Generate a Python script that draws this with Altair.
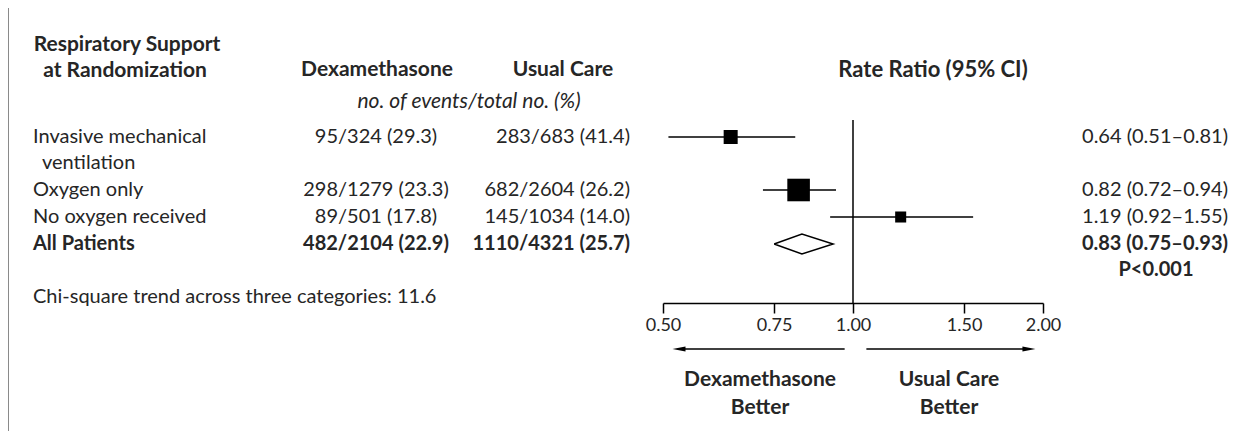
import altair as alt
import pandas as pd

# ---------------- data ----------------
row_labels = ["Invasive mechanical", "Oxygen only", "No oxygen received", "All Patients"]
row_label_cont = ["ventilation", "", "", ""]
dex_text = ["95/324 (29.3)", "298/1279 (23.3)", "89/501 (17.8)", "482/2104 (22.9)"]
usual_text = ["283/683 (41.4)", "682/2604 (26.2)", "145/1034 (14.0)", "1110/4321 (25.7)"]
dex_events = [95, 298, 89, 482]
usual_events = [283, 682, 145, 1110]
rate_ratio = [0.64, 0.82, 1.19, 0.83]
ci_low = [0.51, 0.72, 0.92, 0.75]
ci_high = [0.81, 0.94, 1.55, 0.93]
is_overall = [False, False, False, True]
p_value_text = "P<0.001"
trend_text = "Chi-square trend across three categories: 11.6"
tick_values = [0.50, 0.75, 1.00, 1.50, 2.00]

# ---------------- layout (pixels, chart coords) ----------------
W, H = 1227, 423
ROW_Y = [129, 182, 209, 236]
FONT = "Lato"
TXT = "#262626"
FS_LABEL = 20
FS_NUM = 20
FS_CI = 20
FS_HEAD = 21

df = pd.DataFrame({
    "label": row_labels,
    "cont": row_label_cont,
    "dex": dex_text,
    "usual": usual_text,
    "events": [a + b for a, b in zip(dex_events, usual_events)],
    "rr": rate_ratio,
    "lo": ci_low,
    "hi": ci_high,
    "overall": is_overall,
    "ci": [f"{r:.2f} ({l:.2f}\u2013{h:.2f})" for r, l, h in zip(rate_ratio, ci_low, ci_high)],
    "ypx": ROW_Y,
})

xscale = alt.Scale(type="log", domain=[0.5, 2.0], range=[655, 1035])
AX = alt.Axis(
    values=tick_values, format=".2f", title=None, grid=False,
    offset=-128, tickSize=10, tickColor="black", domainColor="black",
    tickWidth=1.5, domainWidth=1.5, labelFont=FONT, labelFontSize=18,
    labelColor=TXT, labelPadding=3, labelFlush=False, labelOverlap=False,
)
Y = alt.Y("ypx:Q", scale=None)

base = alt.Chart(df)

def one_text(t, x, y, align="center", weight="normal", style="normal", size=FS_LABEL):
    return alt.Chart(pd.DataFrame({"t": [t]})).mark_text(
        align=align, baseline="middle", font=FONT, fontSize=size,
        fontWeight=weight, fontStyle=style, color=TXT
    ).encode(text="t:N", x=alt.value(x), y=alt.value(y))

# headers
headers = [
    one_text("Respiratory Support", 119, 37, weight="bold", size=FS_HEAD),
    one_text("at Randomization", 117, 63, weight="bold", size=FS_HEAD),
    one_text("Dexamethasone", 369, 62, weight="bold", size=FS_HEAD),
    one_text("Usual Care", 555, 62, weight="bold", size=FS_HEAD),
    one_text("Rate Ratio (95% CI)", 925, 62, weight="bold", size=22),
    one_text("no. of events/total no. (%)", 461, 94, style="italic", size=21),
    one_text(trend_text, 25, 289, align="left"),
    one_text(p_value_text, 1148, 262, weight="bold", size=FS_CI),
    one_text("Dexamethasone", 752, 372, weight="bold", size=FS_HEAD),
    one_text("Better", 752, 400, weight="bold", size=FS_HEAD),
    one_text("Usual Care", 941, 372, weight="bold", size=FS_HEAD),
    one_text("Better", 941, 400, weight="bold", size=FS_HEAD),
]

def col_text(field, x, align, bold, size):
    return base.transform_filter(
        alt.datum.overall if bold else ~alt.datum.overall
    ).mark_text(
        align=align, baseline="middle", font=FONT, fontSize=size,
        fontWeight="bold" if bold else "normal", color=TXT
    ).encode(text=f"{field}:N", x=alt.value(x), y=Y)

cols = []
for bold in (False, True):
    cols += [
        col_text("label", 25, "left", bold, FS_LABEL),
        col_text("dex", 368, "center", bold, FS_NUM),
        col_text("usual", 622, "right", bold, FS_NUM),
        col_text("ci", 1220, "right", bold, FS_CI),
    ]

cont = base.transform_filter(alt.datum.cont != "").mark_text(
    align="left", baseline="middle", font=FONT, fontSize=FS_LABEL, color=TXT, dy=26
).encode(text="cont:N", x=alt.value(34), y=Y)

# forest plot marks
ci_rules = base.transform_filter(~alt.datum.overall).mark_rule(
    color="black", strokeWidth=1.5
).encode(
    x=alt.X("lo:Q", scale=xscale, axis=AX),
    x2="hi:Q",
    y=Y,
)

squares = base.transform_filter(~alt.datum.overall).mark_square(
    color="black", filled=True, opacity=1
).encode(
    x=alt.X("rr:Q", scale=xscale, axis=AX),
    y=Y,
    size=alt.Size("events:Q", scale=alt.Scale(domain=[0, 1000], range=[0, 520]), legend=None),
)

# diamond for overall
ov = df[df["overall"]].iloc[0]
diamond_df = pd.DataFrame({
    "x": [ov["lo"], ov["rr"], ov["hi"], ov["rr"], ov["lo"]],
    "dy": [0, -10, 0, 10, 0],
    "o": [0, 1, 2, 3, 4],
})
diamond_df["ypx"] = ov["ypx"] + diamond_df["dy"]
diamond = alt.Chart(diamond_df).mark_line(color="black", strokeWidth=1.5).encode(
    x=alt.X("x:Q", scale=xscale, axis=AX), y=Y, order="o:Q"
)

ref_line = alt.Chart(pd.DataFrame({"v": [1.0]})).mark_rule(color="black", strokeWidth=1.5).encode(
    x=alt.X("v:Q", scale=xscale, axis=AX), y=alt.value(112), y2=alt.value(295)
)

# direction arrows
arrow_df = pd.DataFrame({"start": [0.97, 1.05], "end": [0.53, 1.9], "dir": ["left", "right"]})
arrow_lines = alt.Chart(arrow_df).mark_rule(color="black", strokeWidth=1.5).encode(
    x=alt.X("start:Q", scale=xscale, axis=AX), x2="end:Q", y=alt.value(341)
)
head_left = alt.Chart(arrow_df[arrow_df.dir == "left"]).mark_point(
    shape="M1,-0.4L-1,0L1,0.4Z", filled=True, color="black", size=169, opacity=1
).encode(x=alt.X("end:Q", scale=xscale, axis=AX), y=alt.value(341))
head_right = alt.Chart(arrow_df[arrow_df.dir == "right"]).mark_point(
    shape="M-1,-0.4L1,0L-1,0.4Z", filled=True, color="black", size=169, opacity=1
).encode(x=alt.X("end:Q", scale=xscale, axis=AX), y=alt.value(341))

border = alt.Chart(pd.DataFrame({"a": [0]})).mark_rule(color="#8a8a8a", strokeWidth=2).encode(
    x=alt.value(0), y=alt.value(0), y2=alt.value(H)
)

chart = alt.layer(
    ci_rules, squares, diamond, ref_line, arrow_lines, head_left, head_right,
    border, cont, *cols, *headers
).properties(
    width=W, height=H, padding=0,
    autosize=alt.AutoSizeParams(type="none"),
    background="white",
).configure_view(stroke=None)

chart.save("out.html", embed_options={"renderer": "svg", "actions": False})
